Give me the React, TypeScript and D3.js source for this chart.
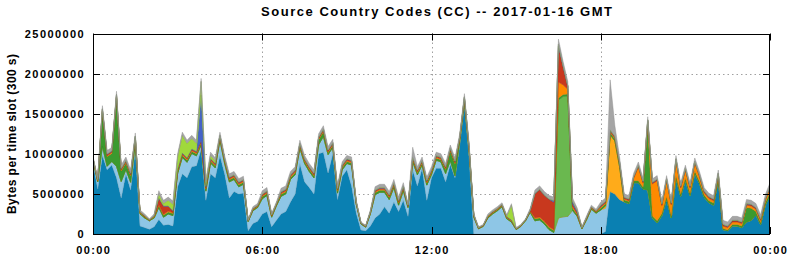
import React from "react";
import * as d3 from "d3";

// time slots every 10 minutes, 00:00 .. 24:00 (values in millions of bytes per 300 s slot)
const slotMinutes = 10;
const xTickMinutes = [0, 360, 720, 1080, 1440];
const xTickLabels = ["00:00", "06:00", "12:00", "18:00", "00:00"];
const yTickValues = [0, 5000000, 10000000, 15000000, 20000000, 25000000];

const darkBlue = [
  8.9, 5.6, 9.8, 8.0, 8.6, 7.0, 4.5, 7.5, 5.5, 10.5,
  1.0, 0.8, 0.6, 0.9, 1.8, 1.1, 1.2, 1.0, 5.9, 7.5,
  7.0, 8.4, 8.5, 10.6, 4.2, 7.5, 7.0, 9.8, 7.5, 4.5,
  5.3, 5.0, 5.1, 0.4, 1.3, 1.6, 2.5, 2.8, 0.9, 1.7,
  2.5, 2.8, 4.0, 5.0, 8.8, 6.5, 5.8, 5.0, 10.0, 10.2,
  7.6, 10.0, 4.3, 7.2, 8.0, 6.0, 2.6, 0.5, 0.4, 1.0,
  2.0, 2.5, 3.4, 2.6, 4.0, 2.8, 4.2, 2.2, 8.0, 6.0,
  8.2, 4.2, 7.0, 8.2, 8.2, 6.5, 8.7, 7.0, 11.0, 16.2,
  9.5, 0, 0, 0, 0, 0, 0, 0, 0, 0,
  0, 0, 0, 0, 0, 0, 0, 0, 0, 0,
  0, 0, 0, 0, 0, 0, 0, 0, 0, 0.3,
  5.3, 5.0, 4.3, 4.0, 3.8, 6.4, 6.4, 5.6, 5.5, 2.0,
  1.4, 2.3, 4.4, 2.0, 7.0, 4.7, 6.7, 4.8, 7.6, 6.3,
  4.6, 3.9, 3.6, 6.8, 0.55, 0.4, 1.0, 1.0, 0.8, 1.5,
  1.7, 2.4, 1.2, 3.6, 4.8,
];

const lightBlue = [
  0.3, 0.9, 1.15, 0.45, 0.45, 1.45, 2.05, 0.55, 0.95, 0.75,
  1.5, 1.2, 1.05, 1.1, 1.5, 1.0, 1.3, 1.3, 1.65, 2.05,
  1.95, 1.65, 1.25, 0.5, 1.15, 1.35, 1.25, 1.9, 1.3, 2.0,
  1.5, 0.9, 1.1, 1.15, 1.6, 1.7, 1.9, 2.0, 1.2, 1.8,
  2.2, 2.2, 2.8, 2.4, 1.9, 2.3, 2.0, 2.0, 1.15, 1.95,
  2.3, 0.8, 0.8, 0.8, 0.8, 2.6, 1.1, 0.75, 0.45, 1.5,
  2.9, 2.7, 1.8, 1.7, 1.8, 0.8, 1.2, 1.1, 1.0, 1.4,
  0.4, 1.9, 0.4, 1.0, 0.8, 1.05, 0.45, 0.25, 0.5, 0.3,
  0.8, 2.1, 0.65, 0.95, 2.0, 2.5, 2.9, 3.4, 1.9, 1.5,
  0.55, 0.95, 1.65, 2.7, 1.65, 1.75, 1.25, 0.55, 0.2, 2.0,
  2.15, 2.2, 2.95, 2.2, 0.65, 1.8, 3.1, 2.6, 3.0, 2.9,
  0, 0, 0, 0, 0, 0, 0, 0, 0, 0,
  0, 0, 0, 0, 0, 0, 0, 0, 0, 0,
  0, 0, 0, 0, 0, 0, 0, 0, 0, 0,
  0, 0, 0, 0, 0,
];

const yellowOrange = [
  0, 0, 0, 0, 0, 0, 0, 0, 0, 0,
  0, 0, 0, 0, 0, 0, 0, 0, 0, 0,
  0, 0, 0, 0, 0, 0, 0, 0, 0, 0,
  0, 0, 0, 0, 0, 0, 0, 0, 0, 0,
  0, 0, 0, 0, 0, 0, 0, 0, 0, 0,
  0, 0, 0, 0, 0, 0, 0, 0, 0, 0,
  0, 0, 0, 0, 0, 0, 0, 0, 0, 0,
  0, 0, 0, 0, 0, 0, 0, 0, 0, 0,
  0, 0, 0, 0, 0, 0, 0, 0, 0, 0,
  0, 0, 0, 0, 0, 0, 0, 0, 0, 0,
  0, 0, 0, 0, 0, 0, 0, 0, 0, 0.3,
  7.1, 6.6, 4.1, 0, 0, 0, 0, 0, 0, 0,
  0, 0, 0, 0, 0, 0, 0, 0, 0, 0,
  0, 0, 0, 0, 0, 0, 0, 0, 0, 0,
  0, 0, 0, 0, 0,
];

const mediumGreen = [
  0, 0, 0, 0, 0, 0, 0, 0, 0, 0,
  0, 0, 0, 0, 0, 0, 0, 0, 0, 0,
  0, 0, 0, 0, 0, 0, 0, 0, 0, 0,
  0, 0, 0, 0, 0, 0, 0, 0, 0, 0,
  0, 0, 0, 0, 0, 0, 0, 0, 0, 0,
  0, 0, 0, 0, 0, 0, 0, 0, 0, 0,
  0, 0, 0, 0, 0, 0, 0, 0, 0, 0,
  0, 0, 0, 0, 0, 0, 0, 0, 0, 0,
  0, 0, 0, 0, 0, 0, 0, 0, 0, 0,
  0, 0, 0, 0, 0, 0, 0, 0, 0, 14.7,
  15.0, 15.0, 0, 0, 0, 0, 0, 0, 0, 0,
  0, 0, 0, 0, 0, 0, 0, 0, 0, 0,
  0, 0, 0, 0, 0, 0, 0, 0, 0, 0,
  0, 0, 0, 0, 0, 0, 0, 0, 0, 0,
  0, 0, 0, 0, 0,
];

const darkGreen = [
  0.12, 0.12, 4.3, 1.2, 1.0, 8.6, 1.3, 0.8, 0.8, 0.6,
  0.12, 0.12, 0.06, 0.12, 0.25, 0.25, 0.25, 0.25, 0.25, 0.25,
  0.25, 0.25, 0.25, 0.25, 0.25, 0.25, 0.25, 0.25, 0.25, 0.25,
  0.25, 0.25, 0.25, 0.06, 0.12, 0.12, 0.25, 0.25, 0.12, 0.12,
  0.25, 0.25, 0.25, 0.25, 0.25, 0.25, 0.25, 0.25, 0.6, 0.6,
  0.25, 0.25, 0.25, 0.25, 0.25, 0.25, 0.12, 0.06, 0.06, 0.12,
  0.25, 0.25, 0.25, 0.25, 0.25, 0.25, 0.25, 0.12, 0.25, 0.25,
  0.25, 0.25, 0.25, 0.25, 0.25, 0.5, 1.2, 1.5, 0.25, 0.25,
  0.25, 0.12, 0.06, 0.06, 0.12, 0.12, 0.12, 0.12, 0.12, 0.12,
  0.06, 0.06, 0.06, 0.12, 0.25, 0.25, 0.25, 0.25, 0.25, 0.25,
  0.25, 0.25, 0.3, 0.2, 0.06, 0.12, 0.12, 0.12, 0.25, 0.25,
  0.25, 0.25, 0.25, 0.25, 0.25, 0.25, 0.25, 0.25, 8.0, 0.25,
  0.25, 0.25, 0.25, 0.25, 0.25, 0.25, 0.25, 0.25, 0.25, 0.25,
  0.25, 0.25, 0.25, 0.25, 0.15, 0.1, 0.2, 0.2, 0.2, 1.8,
  1.5, 0.4, 0.2, 0.3, 0.4,
];

const orange = [
  0.06, 0.06, 0.12, 0.12, 0.12, 0.12, 0.12, 0.12, 0.12, 0.12,
  0.06, 0.06, 0.03, 0.06, 0.12, 0.12, 0.12, 0.12, 0.12, 0.12,
  0.12, 0.12, 0.12, 0.12, 0.12, 0.12, 0.12, 0.12, 0.12, 0.12,
  0.12, 0.12, 0.12, 0.03, 0.06, 0.06, 0.12, 0.12, 0.06, 0.06,
  0.12, 0.12, 0.12, 0.12, 0.12, 0.12, 0.12, 0.12, 0.12, 0.12,
  0.12, 0.12, 0.12, 0.12, 0.12, 0.12, 0.06, 0.03, 0.03, 0.06,
  0.12, 0.12, 0.12, 0.12, 0.12, 0.12, 0.12, 0.06, 0.12, 0.12,
  0.12, 0.12, 0.12, 0.12, 0.12, 0.12, 0.12, 0.12, 0.12, 0.12,
  0.12, 0.06, 0.03, 0.03, 0.06, 0.06, 0.06, 0.06, 0.06, 0.06,
  0.03, 0.03, 0.03, 0.06, 0.12, 0.12, 0.12, 0.12, 0.12, 2.0,
  1.2, 0.6, 0.2, 0.1, 0.03, 0.06, 0.06, 0.06, 0.12, 0.12,
  0.12, 0.12, 0.12, 0.12, 0.12, 0.3, 1.7, 0.5, 0.5, 4.0,
  5.0, 1.0, 2.0, 1.4, 1.9, 0.8, 1.0, 0.7, 1.0, 0.6,
  0.3, 0.3, 0.3, 0.3, 0.3, 0.3, 0.3, 0.3, 0.3, 0.3,
  0.3, 0.3, 0.3, 0.3, 0.5,
];

const red = [
  0.08, 0.08, 0.15, 0.15, 0.15, 0.15, 0.15, 0.15, 0.15, 0.15,
  0.08, 0.08, 0.04, 0.08, 0.8, 1.0, 0.6, 0.2, 0.15, 0.15,
  0.15, 0.15, 0.15, 0.15, 0.15, 0.15, 0.15, 0.15, 0.15, 0.15,
  0.15, 0.15, 0.15, 0.04, 0.08, 0.08, 0.15, 0.15, 0.08, 0.08,
  0.15, 0.15, 0.15, 0.15, 0.15, 0.15, 0.15, 0.15, 0.15, 0.15,
  0.15, 0.15, 0.15, 0.15, 0.15, 0.15, 0.08, 0.04, 0.04, 0.08,
  0.15, 0.15, 0.15, 0.15, 0.15, 0.15, 0.15, 0.08, 0.15, 0.15,
  0.15, 0.15, 0.15, 0.15, 0.15, 0.15, 0.15, 0.15, 0.15, 0.15,
  0.15, 0.08, 0.04, 0.04, 0.08, 0.08, 0.08, 0.08, 0.08, 0.08,
  0.04, 0.04, 0.04, 0.08, 3.0, 3.4, 3.2, 3.4, 3.4, 4.5,
  2.2, 0.3, 0.3, 0.2, 0.04, 0.08, 0.08, 0.08, 0.15, 0.15,
  0.15, 0.15, 0.15, 0.15, 0.15, 0.15, 0.15, 0.15, 0.15, 0.15,
  0.15, 0.15, 0.15, 0.15, 0.15, 0.15, 0.15, 0.15, 0.15, 0.15,
  0.15, 0.15, 0.15, 0.15, 0.15, 0.15, 0.15, 0.15, 0.15, 0.15,
  0.15, 0.15, 0.15, 0.15, 0.15,
];

const blue = [
  0.02, 0.02, 0.05, 0.05, 0.05, 0.05, 0.05, 0.05, 0.05, 0.05,
  0.02, 0.02, 0.01, 0.02, 0.05, 0.05, 0.05, 0.05, 0.05, 0.05,
  0.05, 0.05, 0.05, 5.7, 0.05, 0.05, 0.05, 0.05, 0.05, 0.05,
  0.05, 0.05, 0.05, 0.01, 0.02, 0.02, 0.05, 0.05, 0.02, 0.02,
  0.05, 0.05, 0.05, 0.05, 0.05, 0.05, 0.05, 0.05, 0.05, 0.05,
  0.05, 0.05, 0.05, 0.05, 0.05, 0.05, 0.02, 0.01, 0.01, 0.02,
  0.05, 0.05, 0.05, 0.05, 0.05, 0.05, 0.05, 0.02, 0.05, 0.05,
  0.05, 0.05, 0.05, 0.05, 0.05, 0.05, 0.05, 0.05, 0.05, 0.05,
  0.05, 0.02, 0.01, 0.01, 0.02, 0.02, 0.02, 0.02, 0.02, 0.02,
  0.01, 0.01, 0.01, 0.02, 0.05, 0.05, 0.05, 0.05, 0.2, 0.2,
  0.15, 0.1, 0.3, 0.2, 0.01, 0.02, 0.02, 0.02, 0.05, 0.05,
  0.05, 0.05, 0.05, 0.05, 0.05, 0.05, 0.05, 0.05, 0.05, 0.05,
  0.05, 0.05, 0.05, 0.05, 0.05, 0.05, 0.05, 0.05, 0.05, 0.05,
  0.05, 0.05, 0.05, 0.05, 0.05, 0.05, 0.05, 0.05, 0.05, 0.05,
  0.05, 0.05, 0.05, 0.05, 0.05,
];

const lime = [
  0.02, 0.02, 0.05, 0.05, 0.05, 0.05, 0.05, 0.05, 0.05, 0.05,
  0.02, 0.02, 0.01, 0.02, 0.5, 0.3, 0.7, 0.8, 1.5, 2.2,
  1.8, 1.3, 1.0, 1.7, 0.5, 0.4, 0.3, 0.05, 0.05, 0.05,
  0.05, 0.05, 0.05, 0.01, 0.02, 0.02, 0.05, 0.05, 0.02, 0.02,
  0.05, 0.05, 0.05, 0.05, 0.05, 0.05, 0.05, 0.05, 0.05, 0.05,
  0.05, 0.05, 0.05, 0.05, 0.05, 0.05, 0.02, 0.01, 0.01, 0.02,
  0.05, 0.05, 0.05, 0.05, 0.05, 0.05, 0.05, 0.02, 0.05, 0.05,
  0.05, 0.05, 0.05, 0.05, 0.05, 0.05, 0.05, 0.05, 0.05, 0.05,
  0.05, 0.02, 0.01, 0.01, 0.02, 0.02, 0.02, 0.02, 0.02, 1.8,
  0.01, 0.01, 0.01, 0.02, 0.05, 0.05, 0.05, 0.05, 0.05, 0.05,
  0.05, 0.05, 0.05, 0.03, 0.01, 0.02, 0.02, 0.02, 0.05, 0.05,
  0.05, 0.05, 0.05, 0.05, 0.05, 0.05, 0.05, 0.05, 0.05, 0.05,
  0.05, 0.05, 0.05, 0.05, 0.05, 0.05, 0.05, 0.05, 0.05, 0.05,
  0.05, 0.05, 0.05, 0.05, 0.05, 0.05, 0.05, 0.05, 0.05, 0.05,
  0.05, 0.05, 0.05, 0.05, 0.05,
];

const gray = [
  0.2, 0.2, 0.38, 0.38, 0.38, 0.38, 0.38, 0.38, 0.38, 0.38,
  0.2, 0.2, 0.1, 0.2, 0.38, 0.38, 0.38, 0.38, 0.38, 0.38,
  0.38, 0.38, 0.38, 0.38, 0.38, 0.38, 0.38, 0.38, 0.38, 0.38,
  0.38, 0.38, 0.38, 0.1, 0.2, 0.2, 0.38, 0.38, 0.2, 0.2,
  0.38, 0.38, 0.38, 0.38, 0.38, 0.38, 0.38, 0.38, 0.38, 0.38,
  0.38, 0.38, 0.38, 0.38, 0.38, 0.38, 0.2, 0.1, 0.1, 0.2,
  0.38, 0.38, 0.38, 0.38, 0.38, 0.38, 0.38, 0.2, 1.2, 0.38,
  0.38, 0.38, 0.38, 0.38, 0.38, 0.38, 0.38, 0.38, 0.38, 0.38,
  0.38, 0.2, 0.1, 0.1, 0.2, 0.2, 0.2, 0.2, 0.2, 0.2,
  0.1, 0.1, 0.1, 0.2, 0.38, 0.38, 0.38, 0.38, 0.38, 0.6,
  0.5, 0.5, 0.4, 0.3, 0.1, 0.2, 0.2, 0.2, 0.38, 0.38,
  6.2, 1.3, 0.6, 0.38, 0.38, 0.38, 0.38, 0.38, 0.38, 0.38,
  0.38, 0.38, 0.38, 0.38, 0.38, 0.38, 0.38, 0.38, 0.38, 0.38,
  0.38, 0.38, 0.38, 0.38, 0.45, 0.45, 0.45, 0.45, 0.45, 0.45,
  0.45, 0.45, 0.45, 0.45, 0.45,
];

const seriesKeys = [
  "darkBlue", "lightBlue", "yellowOrange", "mediumGreen", "darkGreen",
  "orange", "red", "blue", "lime", "gray",
];
const seriesValues = [
  darkBlue, lightBlue, yellowOrange, mediumGreen, darkGreen,
  orange, red, blue, lime, gray,
];
const seriesColors = [
  "#0a80b2", "#8ec6e6", "#ffab1a", "#6ab84f", "#3b9a2f",
  "#ff8a00", "#c8381e", "#4563c8", "#a0d83c", "#a5a5a5",
];

const W = 792;
const H = 259;
const M = { left: 93, right: 770, top: 33.5, bottom: 234 };
const FONT = "'Liberation Sans', Arial, Helvetica, sans-serif";

export default function App() {
  const rows = darkBlue.map((_, i) => {
    const r: Record<string, number> = { t: i * slotMinutes };
    seriesKeys.forEach((k, j) => {
      r[k] = seriesValues[j][i] * 1e6;
    });
    return r;
  });

  const x = d3.scaleLinear().domain([0, 1440]).range([M.left, M.right]);
  const y = d3.scaleLinear().domain([0, 25000000]).range([M.bottom, M.top]);

  const stacked = d3.stack<Record<string, number>>().keys(seriesKeys)(rows);
  const area = d3
    .area<d3.SeriesPoint<Record<string, number>>>()
    .x((d) => x(d.data.t))
    .y0((d) => y(d[0]))
    .y1((d) => y(d[1]));

  const darker = (c: string) => d3.color(c)!.darker(0.4).formatHex();

  return (
    <svg
      width={W}
      height={H}
      style={{ position: "absolute", left: 0, top: 0, background: "#fff" }}
    >
      <rect x={0} y={0} width={W} height={H} fill="#fff" />
      {/* grid */}
      {yTickValues.slice(1, -1).map((v) => (
        <line
          key={"gy" + v}
          x1={M.left}
          x2={M.right}
          y1={Math.round(y(v)) + 0.5}
          y2={Math.round(y(v)) + 0.5}
          stroke="#a0a0a0"
          strokeWidth={1}
          strokeDasharray="1.5,3"
        />
      ))}
      {xTickMinutes.slice(1, -1).map((m) => (
        <line
          key={"gx" + m}
          x1={Math.round(x(m)) + 0.5}
          x2={Math.round(x(m)) + 0.5}
          y1={M.top}
          y2={M.bottom}
          stroke="#a0a0a0"
          strokeWidth={1}
          strokeDasharray="1.5,3"
        />
      ))}
      {/* stacked areas */}
      <defs>
        <clipPath id="plotclip">
          <rect x={M.left} y={M.top} width={M.right - M.left} height={M.bottom - M.top} />
        </clipPath>
      </defs>
      <g clipPath="url(#plotclip)">
        {stacked.map((s, j) => (
          <path
            key={s.key}
            d={area(s) || ""}
            fill={seriesColors[j]}
            stroke={darker(seriesColors[j])}
            strokeWidth={0.45}
            strokeLinejoin="round"
          />
        ))}
      </g>
      {/* frame */}
      <rect
        x={M.left + 0.5}
        y={Math.round(M.top) + 0.5}
        width={M.right - M.left - 1}
        height={M.bottom - Math.round(M.top)}
        fill="none"
        stroke="#000"
        strokeWidth={1}
      />
      {/* y ticks */}
      {yTickValues.map((v) => (
        <g key={"yt" + v}>
          <line x1={M.left} x2={M.left + 7} y1={Math.round(y(v)) + 0.5} y2={Math.round(y(v)) + 0.5} stroke="#000" />
          <line x1={M.right - 7} x2={M.right} y1={Math.round(y(v)) + 0.5} y2={Math.round(y(v)) + 0.5} stroke="#000" />
          <text
            x={85}
            y={y(v) + 4}
            textAnchor="end"
            fontFamily={FONT}
            fontWeight="bold"
            fontSize={11}
            letterSpacing={1.4}
            fill="#000"
          >
            {String(v)}
          </text>
        </g>
      ))}
      {/* x ticks */}
      {xTickMinutes.map((m, i) => (
        <g key={"xt" + i}>
          <line x1={Math.round(x(m)) + 0.5} x2={Math.round(x(m)) + 0.5} y1={M.top} y2={M.top + 7} stroke="#000" />
          <line x1={Math.round(x(m)) + 0.5} x2={Math.round(x(m)) + 0.5} y1={M.bottom - 7} y2={M.bottom} stroke="#000" />
          <text
            x={x(m) + 0.7}
            y={254}
            textAnchor="middle"
            fontFamily={FONT}
            fontWeight="bold"
            fontSize={11}
            letterSpacing={1.4}
            fill="#000"
          >
            {xTickLabels[i]}
          </text>
        </g>
      ))}
      {/* title */}
      <text
        x={261}
        y={15.5}
        fontFamily={FONT}
        fontWeight="bold"
        fontSize={13}
        textLength={351}
        lengthAdjust="spacing"
        fill="#000"
      >
        Source Country Codes (CC) -- 2017-01-16 GMT
      </text>
      {/* y axis label */}
      <text
        transform="translate(16,134) rotate(-90)"
        textAnchor="middle"
        fontFamily={FONT}
        fontWeight="bold"
        fontSize={12}
        textLength={160}
        lengthAdjust="spacing"
        fill="#000"
      >
        Bytes per time slot (300 s)
      </text>
    </svg>
  );
}
